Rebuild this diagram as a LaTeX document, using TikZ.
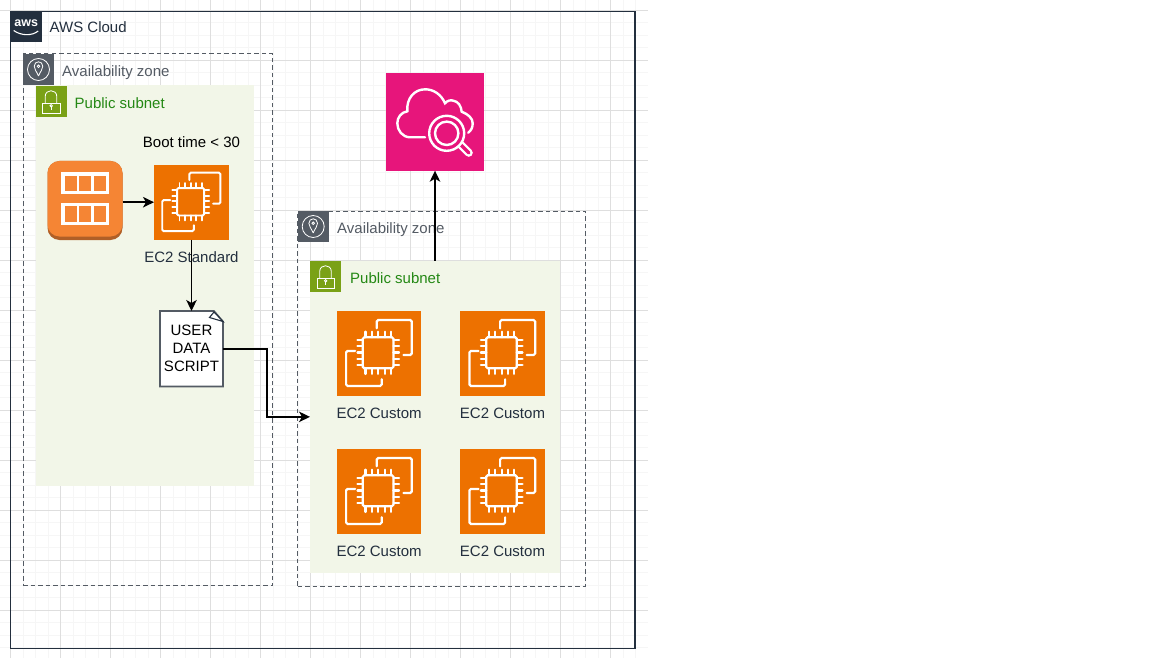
\documentclass[tikz,border=0pt]{standalone}
\usepackage{fontspec}
\setmainfont{Liberation Sans}
\usetikzlibrary{calc}
\usetikzlibrary{arrows.meta}

\definecolor{awsdark}{HTML}{232F3E}
\definecolor{azgray}{HTML}{545B64}
\definecolor{subnetbg}{HTML}{F2F6E8}
\definecolor{subnetgreen}{HTML}{7AA116}
\definecolor{subnettext}{HTML}{248814}
\definecolor{ec2orange}{HTML}{ED7100}
\definecolor{asgorange}{HTML}{F58534}
\definecolor{asgshade}{HTML}{B05F27}
\definecolor{searchpink}{HTML}{E7157B}
\definecolor{gridmajor}{HTML}{DEDEDE}
\definecolor{gridminor}{HTML}{F6F6F6}

\tikzset{
    labeltxt/.style={font=\fontsize{15}{18}\selectfont, inner sep=0pt},
    boxed/.style={inner sep=0pt, outer sep=0pt, anchor=north west, minimum width=#1},
    square/.style={boxed=#1, minimum height=#1},
    zoneline/.style={draw=azgray, dash pattern=on 4.5pt off 3pt, line width=1pt},
    arrowline/.style={-{Stealth[length=11pt, width=10.5pt, inset=3pt]}, line width=1.6pt, black},
    iconline/.style={white, line width=0.8pt},
}

% Chip with two boards behind it, on an orange square
\newcommand{\chipicon}[2]{
    \begin{scope}[shift={(#1.north west)}, x=#2pt, y=-#2pt, white, line width={#2*0.026pt}, rounded corners=1.5pt, line cap=round]
        \draw (0.472,0.205) -- (0.472,0.106) -- (0.886,0.106) -- (0.886,0.52) -- (0.787,0.52);
        \draw (0.217,0.472) -- (0.11,0.472) -- (0.11,0.886) -- (0.531,0.886) -- (0.531,0.807);
        \draw (0.307,0.311) rectangle (0.669,0.677);
        \foreach \p in {0.34,0.415,0.49,0.565,0.64} {
            \draw[sharp corners] (\p,0.244) -- (\p,0.311);
            \draw[sharp corners] (\p,0.677) -- (\p,0.744);
            \draw[sharp corners] (0.244,\p) -- (0.307,\p);
            \draw[sharp corners] (0.669,\p) -- (0.736,\p);
        }
    \end{scope}
}

% Location pin in a circle
\newcommand{\pinicon}[1]{
    \begin{scope}[shift={(#1.north west)}, iconline]
        \draw (15.5,15.5) circle (11);
        \draw (15.5,22) .. controls (13.5,17) and (11.2,15.5) .. (11.2,12.3) .. controls (11.2,9.5) and (13.3,7.8) .. (15.5,7.8) .. controls (17.7,7.8) and (19.8,9.5) .. (19.8,12.3) .. controls (19.8,15.5) and (17.5,17) .. (15.5,22);
        \draw (15.5,12.3) circle (1.3);
    \end{scope}
}

% Padlock
\newcommand{\lockicon}[1]{
    \begin{scope}[shift={(#1.north west)}, iconline]
        \draw (7,17.3) rectangle (24.5,27.3);
        \draw (9.7,17.3) -- (9.7,10.5) .. controls (9.7,2.8) and (21.3,2.8) .. (21.3,10.5) -- (21.3,17.3);
        \draw (15.7,19.8) circle (1.2);
        \draw (15.7,21) -- (15.7,24.3);
    \end{scope}
}

\begin{document}
\begin{tikzpicture}[x=1pt, y=-1pt]
    \useasboundingbox (0,0) rectangle (1152,658);
    \fill[white] (0,0) rectangle (1152,658);

    % Grid
    \foreach \i in {0,...,51} {
        \draw[gridminor, line width=1pt] ({10.7+12.5*(\i-1)},0) -- ({10.7+12.5*(\i-1)},658);
    }
    \foreach \i in {0,...,52} {
        \draw[gridminor, line width=1pt] (0,{10.3+12.5*(\i-1)}) -- (648,{10.3+12.5*(\i-1)});
    }
    \foreach \i in {0,...,12} {
        \draw[gridmajor, line width=1.2pt] ({10.7+50*\i},0) -- ({10.7+50*\i},658);
    }
    \foreach \i in {0,...,12} {
        \draw[gridmajor, line width=1.2pt] (0,{10.3+50*\i}) -- (648,{10.3+50*\i});
    }

    % AWS Cloud
    \node[boxed=624.5pt, minimum height=637pt, draw=awsdark, line width=1.5pt] (cloud) at (10.7,11.5) {};
    \node[square=31pt, fill=awsdark] (cloudicon) at (10.7,11.5) {};
    \node[font=\fontsize{12.5}{13}\bfseries\selectfont, text=white, inner sep=0pt] (awslogo) at ($(cloudicon.center)+(0,-3.5)$) {aws};
    \draw[white, line width=1.1pt] ($(cloudicon.center)+(-12.5,3.5)$) .. controls ($(cloudicon.center)+(-5,9)$) and ($(cloudicon.center)+(6,9)$) .. ($(cloudicon.center)+(12,4)$);
    \node[labeltxt, anchor=west, text=awsdark] (cloudtxt) at (49.5,27.5) {AWS Cloud};

    % Left zone
    \node[boxed=249.5pt, minimum height=531.5pt, zoneline] (zoneA) at (23,54) {};
    \node[square=31pt, fill=azgray] (zoneAicon) at (23,54) {};
    \pinicon{zoneAicon}
    \node[labeltxt, anchor=west, text=azgray] (zoneAtxt) at (62,72.5) {Availability zone};
    \node[boxed=218pt, minimum height=400.5pt, fill=subnetbg] (subnetA) at (35.5,85.5) {};
    \node[square=31pt, fill=subnetgreen] (subnetAicon) at (35.5,86) {};
    \lockicon{subnetAicon}
    \node[labeltxt, anchor=west, text=subnettext] (subnetAtxt) at (74.5,103) {Public subnet};
    \node[labeltxt] (boottxt) at (191.5,142) {Boot time < 30};

    % Scaling group
    \node[boxed=75pt, minimum height=79pt, fill=asgshade, rounded corners=12pt] (asg) at (47.5,161) {};
    \begin{scope}[shift={(asg.north west)}]
        \fill[asgorange, rounded corners=12pt] (0,0) rectangle (75,75.5);
        \foreach \top/\low in {13.2/31.8, 43.5/62.2} {
            \draw[white, line width=3.4pt] (15.3,\top) rectangle (59.7,\low);
            \draw[white, line width=2.7pt] (30.5,\top) -- (30.5,\low);
            \draw[white, line width=2.7pt] (45.2,\top) -- (45.2,\low);
        }
    \end{scope}

    % Standard instance
    \node[square=75pt, fill=ec2orange] (ec2std) at (154,164.7) {};
    \chipicon{ec2std}{75}
    \node[labeltxt, text=awsdark] (ec2stdtxt) at (191.5,257) {EC2 Standard};

    % Script
    \node[boxed=63pt, minimum height=75.5pt] (script) at (160,311) {};
    \draw[fill=white, draw=azgray, line width=1.6pt] (script.north west) -- ($(script.north east)+(-9,0)$) -- ($(script.north east)+(0,10.5)$) -- (script.south east) -- (script.south west) -- cycle;
    \draw[fill=white, draw=awsdark, line width=1.1pt] ($(script.north east)+(-9,1)$) -- ($(script.north east)+(-13.5,6.5)$) -- ($(script.north east)+(0,10.5)$) -- cycle;
    \node[align=center, font=\fontsize{15}{18}\selectfont, inner sep=0pt] (scripttxt) at (script.center) {USER\\DATA\\SCRIPT};

    % Right zone
    \node[boxed=287.5pt, minimum height=375pt, zoneline] (zoneB) at (297.7,211) {};
    \node[square=31pt, fill=azgray] (zoneBicon) at (297.7,211) {};
    \pinicon{zoneBicon}
    \node[labeltxt, anchor=west, text=azgray] (zoneBtxt) at (337,229.5) {Availability zone};
    \node[boxed=250pt, minimum height=312.3pt, fill=subnetbg] (subnetB) at (310,260.7) {};
    \node[square=31pt, fill=subnetgreen] (subnetBicon) at (310,261) {};
    \lockicon{subnetBicon}
    \node[labeltxt, anchor=west, text=subnettext] (subnetBtxt) at (350,278) {Public subnet};

    % Custom instances
    \foreach \nm/\px/\py in {ec2a/336.8/311, ec2b/460.2/311, ec2c/336.8/449, ec2d/460.2/449} {
        \node[square=84.6pt, fill=ec2orange] (\nm) at (\px,\py) {};
        \chipicon{\nm}{84.6}
        \node[labeltxt, text=awsdark] (\nm txt) at ($(\nm.south)+(0,17.5)$) {EC2 Custom};
    }

    % Monitoring
    \node[square=97.4pt, fill=searchpink] (search) at (386.3,73.3) {};
    \begin{scope}[shift={(search.north west)}, white, line width=2.4pt, line cap=round]
        \draw (38.7,64) -- (24,64) .. controls (16,64) and (11,57) .. (11,50) .. controls (11,44) and (15,39) .. (21,38) .. controls (20,25) and (28,16) .. (39,16) .. controls (47,16) and (55,21) .. (58.7,30) .. controls (61,27) and (65,26.5) .. (67,27.4) .. controls (72,28) and (75,33) .. (75.4,38.4) .. controls (82,41) and (86.4,45) .. (86.4,50) .. controls (86.4,54) and (85,57) .. (82,59.4);
        \draw[line width=8pt] (72,69) -- (82.5,79.5);
        \draw[searchpink, line width=3.4pt] (74,71) -- (82.5,79.5);
        \draw[fill=searchpink] (60.4,60) circle (17.5);
        \draw (60.4,60) circle (11.7);
    \end{scope}

    % Connectors
    \draw[arrowline] (asg.east |- ec2std.west) -- (ec2std.west);
    \draw[arrowline] (ec2std.south) -- (script.north);
    \draw[arrowline] (script.east) -- ++(43.7,0) |- (subnetB.west);
    \draw[arrowline] (subnetB.north) -- (search.south);
\end{tikzpicture}
\end{document}
